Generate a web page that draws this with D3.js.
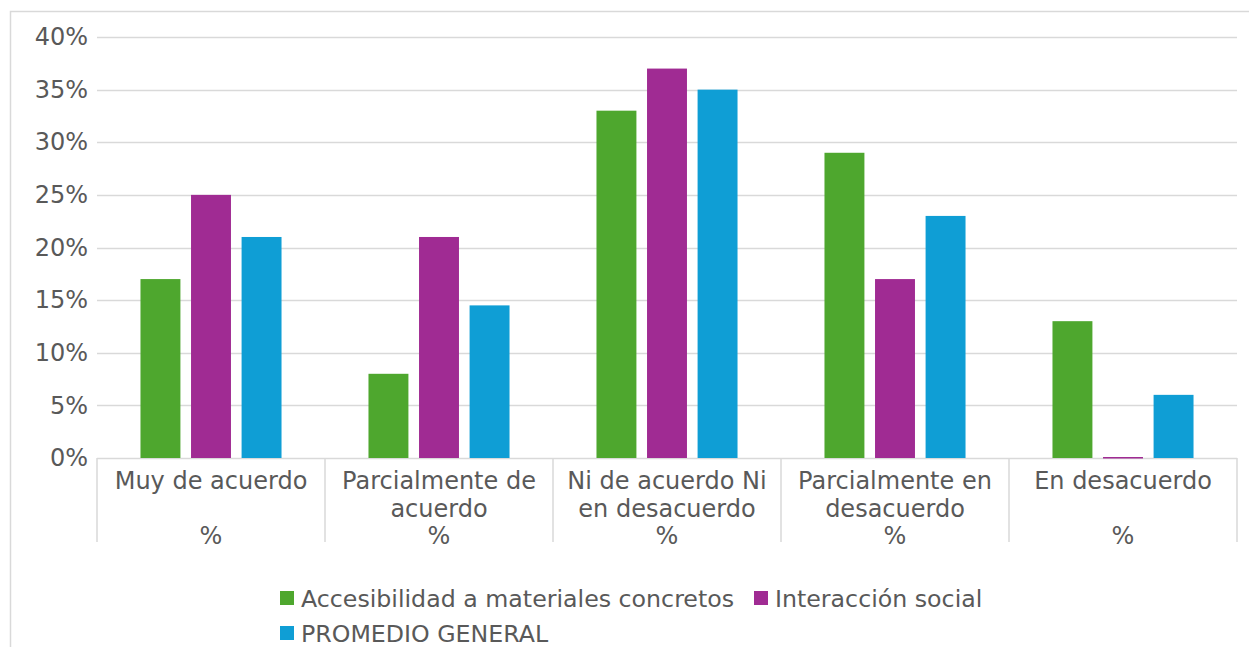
<!DOCTYPE html>
<html>
<head>
<meta charset="utf-8">
<script src="https://cdn.jsdelivr.net/npm/d3@7"></script>
<style>
  html, body { margin: 0; padding: 0; background: #fff; }
  svg { display: block; font-family: "DejaVu Sans", Verdana, sans-serif; }
</style>
</head>
<body>
<svg id="chart" width="1249" height="647"></svg>
<script>
// Category labels (each entry is a list of text lines)
const categories = ["Muy de acuerdo", "Parcialmente de acuerdo", "Ni de acuerdo Ni en desacuerdo", "Parcialmente en desacuerdo", "En desacuerdo"];
const categoryLines = [
  ["Muy de acuerdo", "", "%"],
  ["Parcialmente de", "acuerdo", "%"],
  ["Ni de acuerdo Ni", "en desacuerdo", "%"],
  ["Parcialmente en", "desacuerdo", "%"],
  ["En desacuerdo", "", "%"]
];
const seriesNames = ["Accesibilidad a materiales concretos", "Interacción social", "PROMEDIO GENERAL"];
const accesibilidad = [17, 8, 33, 29, 13];
const interaccion = [25, 21, 37, 17, 0];
const promedio = [21, 14.5, 35, 23, 6];
const seriesValues = [accesibilidad, interaccion, promedio];
const colors = ["#4EA72E", "#A02B93", "#0F9ED5"];
const yTicks = [0, 5, 10, 15, 20, 25, 30, 35, 40];

const svg = d3.select("#chart");
const textColor = "#595959";
const gridColor = "#d9d9d9";

// Outer chart border
svg.append("rect")
  .attr("x", 10.5).attr("y", 11.5)
  .attr("width", 1300).attr("height", 700)
  .attr("fill", "none").attr("stroke", gridColor).attr("stroke-width", 1.5);

const plot = { left: 97, right: 1237, top: 37, bottom: 458 };

const x = d3.scaleBand().domain(categories).range([plot.left, plot.right]).padding(0);
const xInner = d3.scaleBand().domain(seriesNames).range([0, x.bandwidth()])
  .paddingInner(0.21).paddingOuter(0.86);
const y = d3.scaleLinear().domain([0, 40]).range([plot.bottom, plot.top]);

// Horizontal gridlines
svg.append("g").selectAll("line").data(yTicks.filter(d => d > 0)).join("line")
  .attr("x1", plot.left).attr("x2", plot.right)
  .attr("y1", d => Math.round(y(d)) + 0.5).attr("y2", d => Math.round(y(d)) + 0.5)
  .attr("stroke", gridColor).attr("stroke-width", 1.5);

// Y axis labels
const yAxis = d3.axisLeft(y).tickValues(yTicks).tickFormat(d => d + "%").tickSize(0).tickPadding(9);
const gy = svg.append("g").attr("transform", `translate(${plot.left},0)`).call(yAxis);
gy.select(".domain").remove();
gy.selectAll("text").attr("fill", textColor).style("font-size", "24px")
  .style("font-family", "DejaVu Sans, sans-serif");

// Category axis line and dividers
svg.append("line")
  .attr("x1", plot.left).attr("x2", plot.right)
  .attr("y1", plot.bottom + 0.5).attr("y2", plot.bottom + 0.5)
  .attr("stroke", gridColor).attr("stroke-width", 1.5);
const dividers = categories.map(c => x(c)).concat([plot.right]);
svg.append("g").selectAll("line").data(dividers).join("line")
  .attr("x1", d => d).attr("x2", d => d)
  .attr("y1", plot.bottom).attr("y2", 542)
  .attr("stroke", gridColor).attr("stroke-width", 1.5);

// Bars (a zero value still shows as a hairline on the axis)
const groups = svg.append("g").selectAll("g").data(categories).join("g")
  .attr("transform", d => `translate(${x(d)},0)`);
groups.selectAll("rect")
  .data((c, i) => seriesNames.map((s, k) => ({ s, k, v: seriesValues[k][i] })))
  .join("rect")
  .attr("x", d => xInner(d.s))
  .attr("width", xInner.bandwidth())
  .attr("y", d => Math.min(y(d.v), plot.bottom - 1))
  .attr("height", d => Math.max(plot.bottom - y(d.v), 1.5))
  .attr("fill", d => colors[d.k]);

// Category labels
const labelG = svg.append("g").selectAll("text").data(categories).join("text")
  .attr("text-anchor", "middle")
  .attr("fill", textColor)
  .style("font-size", "24px");
labelG.each(function (c, i) {
  const t = d3.select(this);
  categoryLines[i].forEach((line, j) => {
    t.append("tspan")
      .attr("x", x(c) + x.bandwidth() / 2)
      .attr("y", 489 + j * 27.5)
      .text(line);
  });
});

// Legend
const legendItems = [
  { name: seriesNames[0], color: colors[0], x: 280, y: 598 },
  { name: seriesNames[1], color: colors[1], x: 754, y: 598 },
  { name: seriesNames[2], color: colors[2], x: 280, y: 633 }
];
const lg = svg.append("g").selectAll("g").data(legendItems).join("g")
  .attr("transform", d => `translate(${d.x},${d.y})`);
lg.append("rect").attr("x", 0).attr("y", -7).attr("width", 14).attr("height", 14)
  .attr("fill", d => d.color);
lg.append("text").attr("x", 21).attr("y", 8.5)
  .attr("fill", textColor).style("font-size", "23.7px")
  .text(d => d.name);
</script>
</body>
</html>
